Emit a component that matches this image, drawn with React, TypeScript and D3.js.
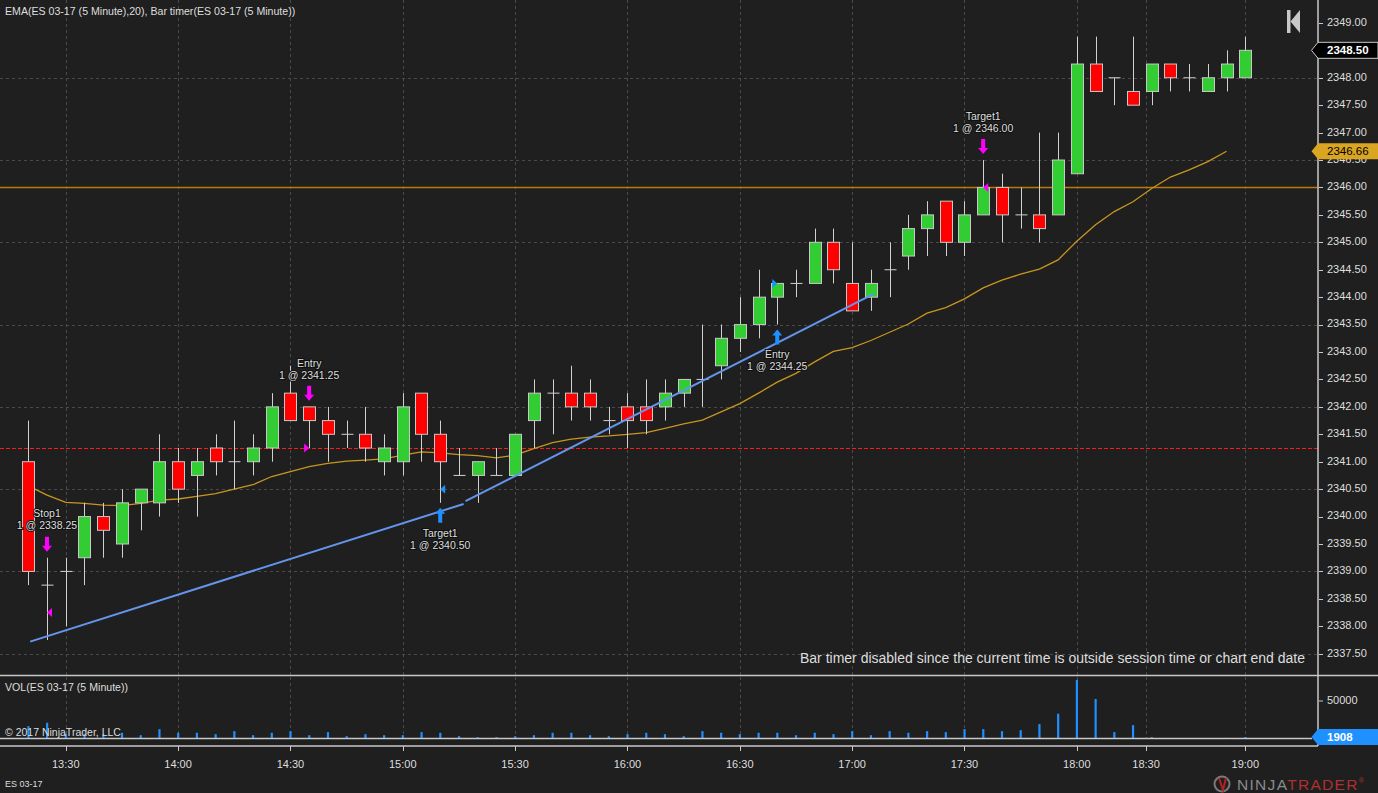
import React, { useEffect } from 'react';
import * as d3 from 'd3';

// ES 03-17, 5 minute bars (bar index 0 .. 65)
const opens = [
  2341.0, 2338.75, 2339.0, 2339.25, 2340.0, 2339.5, 2340.25, 2340.25, 2341.0, 2340.75,
  2341.25, 2341.0, 2341.0, 2341.25, 2342.25, 2342.0, 2341.75, 2341.5, 2341.5, 2341.0,
  2341.0, 2342.25, 2341.5, 2340.75, 2340.75, 2340.75, 2340.75, 2341.75, 2342.25, 2342.25,
  2342.25, 2341.75, 2342.0, 2342.0, 2342.0, 2342.25, 2342.5, 2342.75, 2343.25, 2343.5,
  2344.0, 2344.25, 2344.25, 2345.0, 2344.25, 2344.0, 2344.5, 2344.75, 2345.25, 2345.75,
  2345.0, 2345.5, 2346.0, 2345.5, 2345.5, 2345.5, 2346.25, 2348.25, 2348.0, 2347.75,
  2347.75, 2348.25, 2348.0, 2347.75, 2348.0, 2348.0,
];
const highs = [
  2341.75, 2339.25, 2339.25, 2340.25, 2340.25, 2340.5, 2340.5, 2341.5, 2341.25, 2341.25,
  2341.5, 2341.75, 2341.5, 2342.25, 2342.75, 2342.0, 2342.0, 2341.75, 2342.0, 2341.5,
  2342.25, 2342.25, 2341.75, 2341.25, 2341.0, 2341.25, 2341.5, 2342.5, 2342.5, 2342.75,
  2342.5, 2342.0, 2342.25, 2342.5, 2342.5, 2342.5, 2343.5, 2343.5, 2344.0, 2344.5,
  2344.25, 2344.5, 2345.25, 2345.25, 2345.0, 2344.5, 2345.0, 2345.5, 2345.75, 2345.75,
  2345.75, 2346.5, 2346.25, 2346.0, 2347.0, 2347.0, 2348.75, 2348.75, 2348.0, 2348.75,
  2348.25, 2348.25, 2348.25, 2348.25, 2348.5, 2348.75,
];
const lows = [
  2338.75, 2337.75, 2338.0, 2338.75, 2339.25, 2339.25, 2339.75, 2340.0, 2340.25, 2340.0,
  2340.75, 2340.5, 2340.75, 2341.0, 2341.75, 2341.25, 2341.0, 2341.25, 2341.0, 2340.75,
  2340.75, 2341.0, 2340.25, 2340.75, 2340.25, 2340.75, 2340.75, 2341.25, 2341.5, 2341.75,
  2341.75, 2341.5, 2341.25, 2341.5, 2341.75, 2342.0, 2342.0, 2342.5, 2343.0, 2343.25,
  2343.5, 2344.0, 2344.25, 2344.25, 2343.75, 2343.75, 2344.0, 2344.5, 2344.75, 2344.75,
  2344.75, 2345.5, 2345.0, 2345.25, 2345.0, 2345.5, 2346.25, 2347.75, 2347.5, 2347.5,
  2347.5, 2347.75, 2347.75, 2347.75, 2347.75, 2348.0,
];
const closes = [
  2339.0, 2338.75, 2339.0, 2340.0, 2339.75, 2340.25, 2340.5, 2341.0, 2340.5, 2341.0,
  2341.0, 2341.0, 2341.25, 2342.0, 2341.75, 2341.75, 2341.5, 2341.5, 2341.25, 2341.25,
  2342.0, 2341.5, 2341.0, 2340.75, 2341.0, 2340.75, 2341.5, 2342.25, 2342.25, 2342.0,
  2342.0, 2341.75, 2341.75, 2341.75, 2342.25, 2342.5, 2342.5, 2343.25, 2343.5, 2344.0,
  2344.25, 2344.25, 2345.0, 2344.5, 2343.75, 2344.25, 2344.5, 2345.25, 2345.5, 2345.0,
  2345.5, 2346.0, 2345.5, 2345.5, 2345.25, 2346.5, 2348.25, 2347.75, 2348.0, 2347.5,
  2348.25, 2348.0, 2348.0, 2348.0, 2348.25, 2348.5,
];
const volumes = [
  16500, 21000, 6700, 6500, 5500, 7600, 4400, 12500, 7600, 7600,
  5800, 9800, 4400, 7600, 9800, 4400, 8500, 3100, 5800, 4400,
  4400, 8500, 7600, 3100, 1800, 1800, 3100, 4400, 7600, 7600,
  4400, 3100, 5800, 7600, 5800, 3100, 9800, 7600, 5800, 7600,
  7600, 4400, 7600, 5800, 9800, 4400, 9800, 7600, 9800, 8500,
  12500, 12500, 9800, 11100, 19200, 33100, 78200, 52700, 8500, 17800,
  1800, 700, 600, 700, 900, 1908,
];
// EMA(20), plotted up to the last closed bar
const ema20 = [
  2340.56, 2340.39, 2340.26, 2340.24, 2340.21, 2340.2, 2340.24, 2340.3, 2340.32, 2340.37,
  2340.42, 2340.5, 2340.58, 2340.73, 2340.82, 2340.91, 2340.97, 2341.01, 2341.03, 2341.05,
  2341.12, 2341.18, 2341.16, 2341.13, 2341.11, 2341.07, 2341.12, 2341.24, 2341.35, 2341.41,
  2341.45, 2341.47, 2341.5, 2341.53, 2341.61, 2341.69, 2341.76, 2341.91, 2342.06, 2342.25,
  2342.45, 2342.61, 2342.82, 2343.01, 2343.08, 2343.21, 2343.36, 2343.51, 2343.71, 2343.81,
  2343.97, 2344.17, 2344.31, 2344.42, 2344.51, 2344.68, 2345.02, 2345.32, 2345.56, 2345.74,
  2345.98, 2346.19, 2346.32, 2346.47, 2346.66,
];

const timeLabels = ['13:30', '14:00', '14:30', '15:00', '15:30', '16:00', '16:30', '17:00', '17:30', '18:00', '18:30', '19:00'];
const timeTickBars = [2, 8, 14, 20, 26, 32, 38, 44, 50, 56, 59.7, 65];
const priceTicks = [
  2337.5, 2338, 2338.5, 2339, 2339.5, 2340, 2340.5, 2341, 2341.5, 2342, 2342.5, 2343,
  2343.5, 2344, 2344.5, 2345, 2345.5, 2346, 2346.5, 2347, 2347.5, 2348, 2348.5, 2349,
];
const priceGrid = [2337.5, 2339, 2340.5, 2342, 2343.5, 2345, 2346.5, 2348];

// executions
const execBars = [1, 15, 22, 40, 51];
const execPrices = [2338.25, 2341.25, 2340.5, 2344.25, 2346.0];
const execNames = ['Stop1', 'Entry', 'Target1', 'Entry', 'Target1'];
const execBuy = [false, false, true, true, false];
const execEntry = [false, true, false, true, false];

// drawn trend lines: [bar, price] pairs
const trendLines: [number, number][][] = [
  [[0.1, 2337.72], [23.25, 2340.23]],
  [[23.35, 2340.28], [45.15, 2344.06]],
];

const lastPrice = 2348.5;
const lastEma = 2346.66;
const lastVolume = 1908;
const orangeLevel = 2346.0;
const redLevel = 2341.25;

const W = 1378;
const H = 793;
const AXIS_X = 1318;
const BG = '#1f1f1f';
const GRID = '#4a4a4a';
const TXT = '#dedede';
const FONT = 'Arial, "Liberation Sans", sans-serif';

const x = d3.scaleLinear().domain([0, 65]).range([28.3, 1245.3]);
const y = d3.scaleLinear().domain([2337.5, 2349]).range([653.7, 22.9]);
const yv = d3.scaleLinear().domain([0, 50000]).range([738.5, 701]);
const crisp = (v: number) => Math.round(v) + 0.5;

const emaLine = d3
  .line<number>()
  .x((_, i) => x(i))
  .y((d) => y(d));

const MAGENTA = '#ff00ff';
const BLUE = '#1e90ff';

function Arrow({ cx, tip, down, color }: { cx: number; tip: number; down: boolean; color: string }) {
  const s = down ? -1 : 1; // direction from tip back to tail
  const p = [
    [cx, tip],
    [cx - 5, tip + s * 6],
    [cx - 2, tip + s * 6],
    [cx - 2, tip + s * 15],
    [cx + 2, tip + s * 15],
    [cx + 2, tip + s * 6],
    [cx + 5, tip + s * 6],
  ];
  return <polygon points={p.map((q) => q.join(',')).join(' ')} fill={color} />;
}

export default function App() {
  useEffect(() => {
    document.body.style.margin = '0';
    document.body.style.background = BG;
  }, []);

  const bodyW = 12;

  return (
    <svg
      width={W}
      height={H}
      style={{ position: 'absolute', left: 0, top: 0, background: BG, fontFamily: FONT }}
    >
      <rect width={W} height={H} fill={BG} />

      {/* grid */}
      {priceGrid.map((p) => (
        <line key={'hg' + p} x1={0} x2={AXIS_X} y1={crisp(y(p))} y2={crisp(y(p))} stroke={GRID} strokeDasharray="3 3" />
      ))}
      {timeTickBars.map((b) => (
        <g key={'vg' + b}>
          <line x1={crisp(x(b))} x2={crisp(x(b))} y1={0} y2={675} stroke={GRID} strokeDasharray="3 3" />
          <line x1={crisp(x(b))} x2={crisp(x(b))} y1={677} y2={738} stroke={GRID} strokeDasharray="3 3" />
        </g>
      ))}

      {/* horizontal levels */}
      <line
        x1={0}
        x2={AXIS_X}
        y1={crisp(y(orangeLevel))}
        y2={crisp(y(orangeLevel))}
        stroke="#b8780c"
        strokeWidth={1.4}
      />
      <line
        x1={0}
        x2={AXIS_X}
        y1={crisp(y(redLevel))}
        y2={crisp(y(redLevel))}
        stroke="#ff1a1a"
        strokeDasharray="4 2"
      />

      {/* EMA */}
      <path d={emaLine(ema20) || ''} fill="none" stroke="#c8961e" strokeWidth={1.3} />

      {/* candles */}
      {opens.map((o, i) => {
        const c = closes[i];
        const cx = Math.round(x(i)) + 0.5;
        const top = y(Math.max(o, c));
        const bot = y(Math.min(o, c));
        return (
          <g key={'c' + i}>
            <line x1={cx} x2={cx} y1={y(highs[i])} y2={y(lows[i])} stroke="#d0d0d0" strokeWidth={1} />
            {o === c ? (
              <line x1={cx - bodyW / 2} x2={cx + bodyW / 2} y1={top} y2={top} stroke="#d0d0d0" strokeWidth={1} />
            ) : (
              <rect
                x={cx - bodyW / 2}
                y={top}
                width={bodyW}
                height={bot - top}
                fill={c > o ? '#32cd32' : '#ff0000'}
                stroke="#c8c8c8"
                strokeWidth={1}
              />
            )}
          </g>
        );
      })}

      {/* trend lines */}
      {trendLines.map((seg, i) => (
        <line
          key={'tl' + i}
          x1={x(seg[0][0])}
          y1={y(seg[0][1])}
          x2={x(seg[1][0])}
          y2={y(seg[1][1])}
          stroke="#6495ed"
          strokeWidth={2}
        />
      ))}

      {/* executions */}
      {execBars.map((b, i) => {
        const cx = x(b);
        const color = execBuy[i] ? BLUE : MAGENTA;
        const py = y(execPrices[i]);
        const tri = execEntry[i]
          ? `${cx},${py} ${cx - 5},${py - 4.5} ${cx - 5},${py + 4.5}`
          : `${cx},${py} ${cx + 5},${py - 4.5} ${cx + 5},${py + 4.5}`;
        const tip = execBuy[i] ? y(lows[b]) + 5 : y(highs[b]) - 6;
        const l1 = execBuy[i] ? tip + 26 : tip - 37;
        const l2 = execBuy[i] ? tip + 38 : tip - 25;
        const txt = {
          textAnchor: 'middle' as const,
          fontSize: 10.5,
          fill: TXT,
          stroke: '#101010',
          strokeWidth: 2,
          paintOrder: 'stroke' as const,
          dominantBaseline: 'middle' as const,
        };
        return (
          <g key={'ex' + i}>
            <polygon points={tri} fill={color} />
            <Arrow cx={cx} tip={tip} down={!execBuy[i]} color={color} />
            <text x={cx} y={l1} {...txt}>
              {execNames[i]}
            </text>
            <text x={cx} y={l2} {...txt}>
              {`1 @ ${execPrices[i].toFixed(2)}`}
            </text>
          </g>
        );
      })}

      {/* header */}
      <text x={5} y={15} fontSize={10.6} fill={TXT}>
        EMA(ES 03-17 (5 Minute),20), Bar timer(ES 03-17 (5 Minute))
      </text>
      <rect x={1287} y={10} width={3.5} height={23} fill="#c8c8c8" />
      <polygon points="1290.5,21.5 1300,10 1300,33" fill="#c8c8c8" />

      <text x={1305} y={663} fontSize={14} fill={TXT} textAnchor="end">
        Bar timer disabled since the current time is outside session time or chart end date
      </text>

      {/* volume panel */}
      {volumes.map((v, i) => (
        <rect key={'v' + i} x={x(i) - 1} y={yv(v)} width={2.2} height={yv(0) - yv(v)} fill={BLUE} />
      ))}
      <text x={5} y={691} fontSize={10.6} fill={TXT}>
        VOL(ES 03-17 (5 Minute))
      </text>
      <text x={5} y={736} fontSize={10.5} fill={TXT}>
        © 2017 NinjaTrader, LLC
      </text>

      {/* frame lines */}
      <line x1={0} x2={W} y1={675.5} y2={675.5} stroke="#c8c8c8" strokeWidth={1.5} />
      <line x1={0} x2={1312} y1={738.5} y2={738.5} stroke="#c8c8c8" strokeWidth={1.5} />
      <line x1={0} x2={AXIS_X} y1={746} y2={746} stroke="#c8c8c8" strokeWidth={1.5} />
      <line x1={AXIS_X} x2={AXIS_X} y1={0} y2={746} stroke="#c8c8c8" strokeWidth={1.5} />

      {/* price axis */}
      {priceTicks.map((p) => (
        <g key={'pt' + p}>
          <line x1={AXIS_X + 1} x2={AXIS_X + 5} y1={crisp(y(p))} y2={crisp(y(p))} stroke="#c8c8c8" />
          <text x={1327} y={y(p)} fontSize={11} fill={TXT} dominantBaseline="middle">
            {p.toFixed(2)}
          </text>
        </g>
      ))}
      {/* volume axis */}
      <line x1={AXIS_X + 1} x2={AXIS_X + 5} y1={yv(50000)} y2={yv(50000)} stroke="#c8c8c8" />
      <text x={1327} y={yv(50000)} fontSize={11} fill={TXT} dominantBaseline="middle">
        50000
      </text>

      {/* last value markers */}
      {[
        { v: y(lastPrice), fill: '#000', stroke: '#c8c8c8', tc: '#fff', label: lastPrice.toFixed(2), bold: true },
        { v: y(lastEma), fill: '#daa520', stroke: 'none', tc: '#000', label: lastEma.toFixed(2), bold: false },
        { v: yv(lastVolume), fill: BLUE, stroke: 'none', tc: '#fff', label: String(lastVolume), bold: true },
      ].map((m, i) => (
        <g key={'lm' + i}>
          <polygon
            points={`1311.5,${m.v} 1318,${m.v - 8} 1378,${m.v - 8} 1378,${m.v + 8} 1318,${m.v + 8}`}
            fill={m.fill}
            stroke={m.stroke}
          />
          <text
            x={1327}
            y={m.v + 0.5}
            fontSize={11.5}
            fill={m.tc}
            fontWeight={m.bold ? 'bold' : 'normal'}
            dominantBaseline="middle"
          >
            {m.label}
          </text>
        </g>
      ))}

      {/* time axis */}
      {timeTickBars.map((b, i) => (
        <g key={'tt' + b}>
          <line x1={crisp(x(b))} x2={crisp(x(b))} y1={746} y2={751} stroke="#c8c8c8" />
          <text x={x(b)} y={765} fontSize={11} fill={TXT} textAnchor="middle" dominantBaseline="middle">
            {timeLabels[i]}
          </text>
        </g>
      ))}
      <text x={5} y={787} fontSize={9} fill={TXT}>
        ES 03-17
      </text>

      {/* logo */}
      <g>
        <circle cx={1222} cy={784} r={7.5} fill="none" stroke="#7a7a7a" strokeWidth={2} />
        <path d="M1219,778 L1223,790 L1226,778" fill="none" stroke="#b22222" strokeWidth={2} />
        <text x={1237} y={790} fontSize={15.5} fontWeight={300} letterSpacing={1.3} fill="#8a8a8a">
          NINJA
          <tspan fill="#b03030">TRADER</tspan>
          <tspan fontSize={7} dy={-7} fill="#b03030">
            ®
          </tspan>
        </text>
      </g>
    </svg>
  );
}
